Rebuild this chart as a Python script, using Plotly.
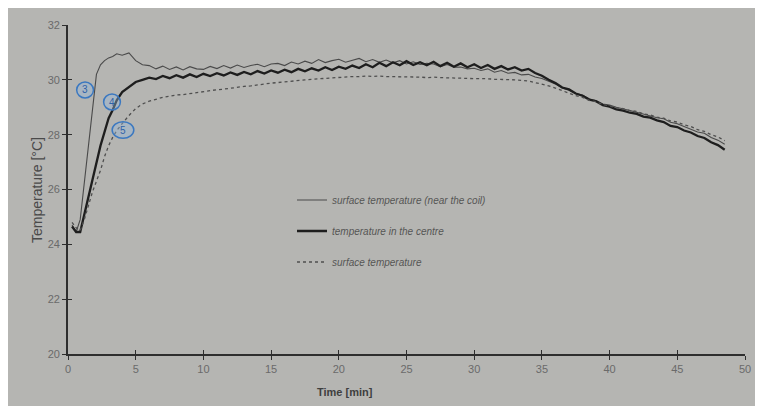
import plotly.graph_objects as go

# ---------------- data ----------------
time_min = [0.3, 0.6, 0.9, 1.2, 1.5, 1.8, 2.1, 2.4, 2.7, 3.0, 3.3, 3.6,
            4.0, 4.5, 5.0, 5.5, 6.0, 6.5, 7.0, 7.5, 8.0, 8.5, 9.0, 9.5,
            10.0, 10.5, 11.0, 11.5, 12.0, 12.5, 13.0, 13.5, 14.0, 14.5,
            15.0, 15.5, 16.0, 16.5, 17.0, 17.5, 18.0, 18.5, 19.0, 19.5,
            20.0, 20.5, 21.0, 21.5, 22.0, 22.5, 23.0, 23.5, 24.0, 24.5,
            25.0, 25.5, 26.0, 26.5, 27.0, 27.5, 28.0, 28.5, 29.0, 29.5,
            30.0, 30.5, 31.0, 31.5, 32.0, 32.5, 33.0, 33.5, 34.0, 34.5,
            35.0, 35.5, 36.0, 36.5, 37.0, 37.5, 38.0, 38.5, 39.0, 39.5,
            40.0, 40.5, 41.0, 41.5, 42.0, 42.5, 43.0, 43.5, 44.0, 44.5,
            45.0, 45.5, 46.0, 46.5, 47.0, 47.5, 48.0, 48.5]

surface_near_coil = [24.7, 24.45, 24.9, 26.2, 27.5, 28.9, 30.2, 30.55, 30.7, 30.8, 30.85, 30.95,
                     30.9, 30.98, 30.7, 30.55, 30.52, 30.4, 30.5, 30.38, 30.47, 30.36, 30.48, 30.4,
                     30.38, 30.49, 30.41, 30.52, 30.43, 30.54, 30.45, 30.52, 30.57, 30.48,
                     30.58, 30.6, 30.52, 30.65, 30.58, 30.68, 30.6, 30.74, 30.63, 30.7,
                     30.75, 30.64, 30.72, 30.78, 30.66, 30.74, 30.64, 30.72, 30.62, 30.7,
                     30.58, 30.66, 30.56, 30.6, 30.58, 30.48, 30.56, 30.46, 30.47, 30.4,
                     30.42, 30.34, 30.4, 30.28, 30.34, 30.24, 30.27, 30.18, 30.2, 30.1,
                     30.05, 29.95, 29.85, 29.7, 29.62, 29.5, 29.45, 29.3, 29.25, 29.12,
                     29.08, 29.0, 28.95, 28.88, 28.82, 28.75, 28.7, 28.62, 28.58, 28.45,
                     28.4, 28.3, 28.22, 28.1, 28.05, 27.9, 27.8, 27.65]

centre_temp = [24.65, 24.45, 24.45, 25.1, 25.75, 26.4, 27.0, 27.6, 28.1, 28.6, 28.9, 29.25,
               29.55, 29.75, 29.92, 30.0, 30.08, 30.03, 30.14, 30.06, 30.17, 30.08, 30.2, 30.1,
               30.22, 30.14, 30.24, 30.16, 30.27, 30.18, 30.29, 30.2, 30.32, 30.23,
               30.34, 30.26, 30.37, 30.28, 30.4, 30.31, 30.42, 30.34, 30.46, 30.36,
               30.48, 30.4, 30.52, 30.43, 30.57, 30.46, 30.62, 30.5, 30.64, 30.53,
               30.68, 30.54, 30.64, 30.53, 30.66, 30.5, 30.62, 30.48, 30.6, 30.46,
               30.57, 30.43, 30.54, 30.4, 30.5, 30.38, 30.46, 30.34, 30.4, 30.25,
               30.15, 30.0, 29.88, 29.72, 29.65, 29.5, 29.42, 29.28, 29.22, 29.08,
               29.02, 28.92, 28.88, 28.8, 28.76, 28.66, 28.62, 28.52, 28.46, 28.32,
               28.28, 28.15, 28.08, 27.95, 27.88, 27.72, 27.62, 27.45]

surface_temp = [24.8, 24.6, 24.5, 24.9, 25.4, 25.9, 26.3, 26.7, 27.2, 27.6, 27.9, 28.15,
                28.4, 28.7, 28.95, 29.12, 29.22, 29.3, 29.36, 29.4, 29.45, 29.46, 29.5, 29.52,
                29.58, 29.6, 29.64, 29.66, 29.7, 29.72, 29.76, 29.78, 29.82, 29.84,
                29.88, 29.9, 29.93, 29.95, 29.98, 30.0, 30.02, 30.04, 30.06, 30.07,
                30.1, 30.1, 30.12, 30.12, 30.14, 30.12, 30.14, 30.12, 30.12, 30.1,
                30.12, 30.1, 30.1, 30.08, 30.1, 30.08, 30.08, 30.06, 30.06, 30.05,
                30.05, 30.04, 30.04, 30.02, 30.02, 30.0, 30.0, 29.98, 29.96, 29.9,
                29.85, 29.78, 29.7, 29.6, 29.52, 29.42, 29.36, 29.25, 29.2, 29.1,
                29.05, 28.98, 28.95, 28.88, 28.85, 28.76, 28.72, 28.64, 28.6, 28.5,
                28.46, 28.36, 28.3, 28.18, 28.12, 28.0, 27.92, 27.78]

series_names = ["surface temperature (near the coil)",
                "temperature in the centre",
                "surface temperature"]

x_ticks = [0, 5, 10, 15, 20, 25, 30, 35, 40, 45, 50]
y_ticks = [20, 22, 24, 26, 28, 30, 32]

# hand-written circled markers on the curves: (label, time, temperature)
marks = [("3", 1.26, 29.63), ("4", 3.25, 29.19), ("5", 4.06, 28.17)]

assert len(time_min) == len(surface_near_coil) == len(centre_temp) == len(surface_temp)

# ---------------- figure ----------------
OFF = 8                       # page body margin of the browser
W, H = 763 - OFF, 406 - OFF
ML, MR, MT, MB = 68 - OFF, 18, 25 - OFF, 52
PW, PH = W - ML - MR, H - MT - MB

def px_x(p):   # screen pixel -> paper x
    return (p - OFF - ML) / PW

def px_y(p):   # screen pixel -> paper y
    return (H - MB - (p - OFF)) / PH

BG = "#b5b5b2"
FONT = "Liberation Sans, Arial, sans-serif"

fig = go.Figure()
fig.add_trace(go.Scatter(x=time_min, y=surface_near_coil, mode="lines",
                         name=series_names[0], legend="legend",
                         line=dict(color="#4a4a4a", width=1.1)))
fig.add_trace(go.Scatter(x=time_min, y=centre_temp, mode="lines",
                         name=series_names[1], legend="legend2",
                         line=dict(color="#1e1e1e", width=2.3)))
fig.add_trace(go.Scatter(x=time_min, y=surface_temp, mode="lines",
                         name=series_names[2], legend="legend3",
                         xaxis="x2", yaxis="y2",
                         line=dict(color="#4f4f4f", width=1.3, dash="dot")))

axis_common = dict(showgrid=False, zeroline=False, showline=True,
                   linecolor="#2e2e2e", linewidth=1.6, tickcolor="#2e2e2e",
                   tickwidth=1.4, ticklen=4)
tick_font = dict(family=FONT, size=11, color="#6a6a6a")

leg_common = dict(xanchor="left", yanchor="middle", bgcolor="rgba(0,0,0,0)",
                  borderwidth=0, itemwidth=30,
                  font=dict(family=FONT, size=10, color="#555555", style="italic"))

fig.update_layout(
    width=W, height=H,
    margin=dict(l=ML, r=MR, t=MT, b=MB, pad=0),
    paper_bgcolor=BG,
    plot_bgcolor=BG,
    xaxis=dict(range=[0, 50], tickvals=x_ticks, ticks="outside", tickfont=tick_font, **axis_common),
    yaxis=dict(range=[20, 32], tickvals=y_ticks, ticks="outside", tickfont=tick_font, **axis_common),
    xaxis2=dict(range=[0, 50], tickvals=x_ticks, ticks="inside", overlaying="x",
                anchor="y2", side="bottom", showticklabels=False, **axis_common),
    yaxis2=dict(range=[20, 32], tickvals=y_ticks, ticks="inside", overlaying="y",
                anchor="x2", side="left", showticklabels=False, **axis_common),
    showlegend=True,
    legend=dict(x=px_x(292), y=px_y(200), **leg_common),
    legend2=dict(x=px_x(292), y=px_y(231), **leg_common),
    legend3=dict(x=px_x(292), y=px_y(262), **leg_common),
)

# axis titles
fig.add_annotation(text="<b>Time [min]</b>", xref="paper", yref="paper",
                   x=px_x(345), y=px_y(392), xanchor="center", yanchor="middle",
                   showarrow=False, font=dict(family=FONT, size=11, color="#3f3f3f"))
fig.add_annotation(text="Temperature [°C]", xref="paper", yref="paper",
                   x=px_x(37), y=px_y(190), xanchor="center", yanchor="middle",
                   showarrow=False, textangle=-90,
                   font=dict(family=FONT, size=14, color="#4a4a4a"))

# hand-drawn blue circled numbers
for lab, tx, ty in marks:
    rx = 0.8 if lab == "5" else 0.62
    ry = 0.3 if lab == "5" else 0.29
    fig.add_shape(type="circle", xref="x", yref="y",
                  x0=tx - rx, x1=tx + rx, y0=ty - ry, y1=ty + ry,
                  fillcolor="rgba(150,185,220,0.4)",
                  line=dict(color="#3b78c0", width=1.5))
    fig.add_annotation(text=lab, x=tx, y=ty, xref="x", yref="y", showarrow=False,
                       font=dict(family=FONT, size=10, color="#2f62a8"))

fig.write_html("out.html")
